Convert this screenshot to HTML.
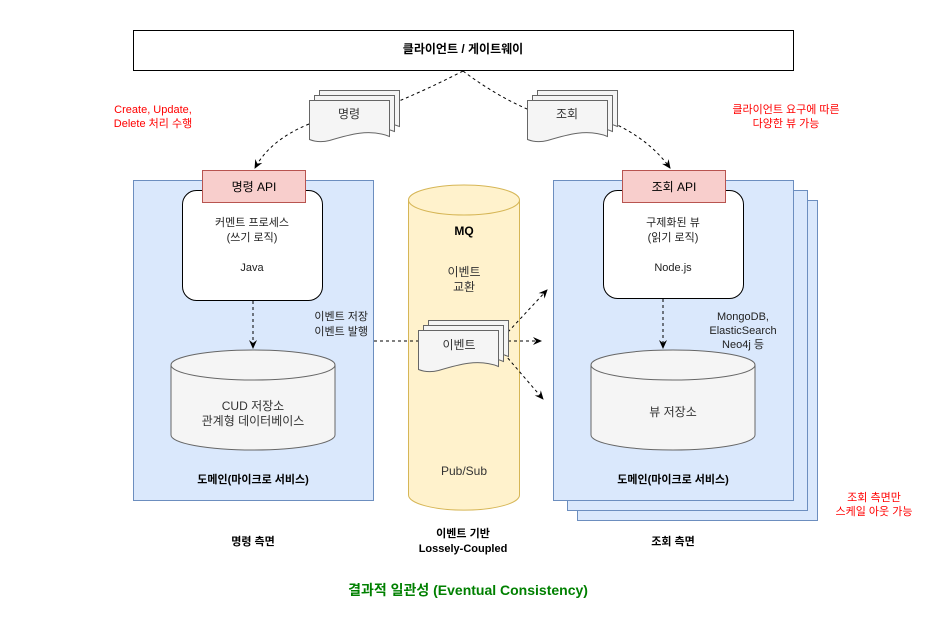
<!DOCTYPE html>
<html><head><meta charset="utf-8"><style>
body{margin:0;background:#fff;}
svg text{font-family:"Liberation Sans","Noto Sans CJK KR",sans-serif;}
</style></head><body>
<svg width="944" height="632" viewBox="0 0 944 632" xmlns="http://www.w3.org/2000/svg">
<defs>
<marker id="ar" markerWidth="10" markerHeight="10" refX="8" refY="5" orient="auto" markerUnits="userSpaceOnUse">
<path d="M0,1 L9,5 L0,9 L3,5 Z" fill="#000"/></marker>
<g id="doc">
<path d="M0,0 H80 V36 C60,28 40,34 20,40 C12,42 5,41 0,39 Z" fill="#f5f5f5" stroke="#666" stroke-width="1"/>
</g>
</defs>
<rect width="944" height="632" fill="#fff"/>
<!-- top box -->
<rect x="133.5" y="30.5" width="660" height="40" fill="#fff" stroke="#000"/>
<text x="463" y="53" font-size="12" font-weight="bold" text-anchor="middle">클라이언트 / 게이트웨이</text>

<!-- red notes -->
<text font-size="11" fill="#ff0000" text-anchor="middle"><tspan x="153" y="113">Create, Update,</tspan><tspan x="153" y="127">Delete 처리 수행</tspan></text>
<text font-size="11" fill="#ff0000" text-anchor="middle"><tspan x="786" y="113">클라이언트 요구에 따른</tspan><tspan x="786" y="127">다양한 뷰 가능</tspan></text>
<text font-size="11" fill="#ff0000" text-anchor="middle"><tspan x="874" y="501">조회 측면만</tspan><tspan x="874" y="515">스케일 아웃 가능</tspan></text>

<!-- left domain -->
<rect x="133.5" y="180.5" width="240" height="320" fill="#dae8fc" stroke="#6c8ebf"/>
<rect x="182.5" y="190.5" width="140" height="110" rx="14" fill="#fff" stroke="#000"/>
<rect x="202.5" y="170.5" width="103" height="32" fill="#f8cecc" stroke="#b85450"/>
<text x="254" y="191" font-size="12" text-anchor="middle">명령 API</text>
<text font-size="11" text-anchor="middle" fill="#222"><tspan x="252" y="226">커멘트 프로세스</tspan><tspan x="252" y="241">(쓰기 로직)</tspan><tspan x="252" y="271">Java</tspan></text>
<line x1="253" y1="301" x2="253" y2="348" stroke="#000" stroke-dasharray="3,3" marker-end="url(#ar)"/>
<path d="M171,365 V435 A82,15 0 0 0 335,435 V365" fill="#f5f5f5" stroke="#666"/>
<ellipse cx="253" cy="365" rx="82" ry="15" fill="#f5f5f5" stroke="#666"/>
<text font-size="12" text-anchor="middle" fill="#333"><tspan x="253" y="410">CUD 저장소</tspan><tspan x="253" y="425">관계형 데이터베이스</tspan></text>
<text font-size="11" text-anchor="end" fill="#222"><tspan x="368" y="320">이벤트 저장</tspan><tspan x="368" y="335">이벤트 발행</tspan></text>
<text x="253" y="483" font-size="11" font-weight="bold" text-anchor="middle">도메인(마이크로 서비스)</text>

<!-- right domain -->
<rect x="577.5" y="200.5" width="240" height="320" fill="#dae8fc" stroke="#6c8ebf"/>
<rect x="567.5" y="190.5" width="240" height="320" fill="#dae8fc" stroke="#6c8ebf"/>
<rect x="553.5" y="180.5" width="240" height="320" fill="#dae8fc" stroke="#6c8ebf"/>
<rect x="603.5" y="190.5" width="140" height="108" rx="14" fill="#fff" stroke="#000"/>
<rect x="622.5" y="170.5" width="103" height="32" fill="#f8cecc" stroke="#b85450"/>
<text x="674" y="191" font-size="12" text-anchor="middle">조회 API</text>
<text font-size="11" text-anchor="middle" fill="#222"><tspan x="673" y="226">구제화된 뷰</tspan><tspan x="673" y="241">(읽기 로직)</tspan><tspan x="673" y="271">Node.js</tspan></text>
<line x1="663" y1="299" x2="663" y2="348" stroke="#000" stroke-dasharray="3,3" marker-end="url(#ar)"/>
<path d="M591,365 V435 A82,15 0 0 0 755,435 V365" fill="#f5f5f5" stroke="#666"/>
<ellipse cx="673" cy="365" rx="82" ry="15" fill="#f5f5f5" stroke="#666"/>
<text x="673" y="416" font-size="12" text-anchor="middle" fill="#333">뷰 저장소</text>
<text font-size="11" text-anchor="middle" fill="#222"><tspan x="743" y="320">MongoDB,</tspan><tspan x="743" y="334">ElasticSearch</tspan><tspan x="743" y="348">Neo4j 등</tspan></text>
<text x="673" y="483" font-size="11" font-weight="bold" text-anchor="middle">도메인(마이크로 서비스)</text>

<!-- MQ -->
<path d="M408.5,200 V495 A55,15 0 0 0 519.5,495 V200" fill="#fff2cc" stroke="#d6b656"/>
<ellipse cx="464" cy="200" rx="55.5" ry="15" fill="#fff2cc" stroke="#d6b656"/>
<text x="464" y="235" font-size="12" font-weight="bold" text-anchor="middle">MQ</text>
<text font-size="12" text-anchor="middle" fill="#333"><tspan x="464" y="276">이벤트</tspan><tspan x="464" y="291">교환</tspan></text>
<text x="464" y="475" font-size="12" text-anchor="middle" fill="#333">Pub/Sub</text>

<!-- event arrows -->
<line x1="374" y1="341" x2="418" y2="341" stroke="#000" stroke-dasharray="3,3"/>
<line x1="508" y1="341" x2="541" y2="341" stroke="#000" stroke-dasharray="3,3" marker-end="url(#ar)"/>
<line x1="508" y1="332" x2="547" y2="290" stroke="#000" stroke-dasharray="3,3" marker-end="url(#ar)"/>
<line x1="500" y1="349" x2="543" y2="399" stroke="#000" stroke-dasharray="3,3" marker-end="url(#ar)"/>
<use href="#doc" x="428.5" y="320.5"/>
<use href="#doc" x="423.5" y="325.5"/>
<use href="#doc" x="418.5" y="330.5"/>
<text x="459" y="349" font-size="12" text-anchor="middle" fill="#333">이벤트</text>

<!-- top arrows -->
<path d="M463,71 Q430,88 399,101" fill="none" stroke="#000" stroke-dasharray="3,3"/>
<path d="M309,124 Q270,140 255,168" fill="none" stroke="#000" stroke-dasharray="3,3" marker-end="url(#ar)"/>
<path d="M463,71 Q495,95 527,109" fill="none" stroke="#000" stroke-dasharray="3,3"/>
<path d="M613,123 Q650,140 670,168" fill="none" stroke="#000" stroke-dasharray="3,3" marker-end="url(#ar)"/>
<use href="#doc" x="319.5" y="90.5"/>
<use href="#doc" x="314.5" y="95.5"/>
<use href="#doc" x="309.5" y="100.5"/>
<text x="349" y="118" font-size="12" text-anchor="middle" fill="#333">명령</text>
<use href="#doc" x="537.5" y="90.5"/>
<use href="#doc" x="532.5" y="95.5"/>
<use href="#doc" x="527.5" y="100.5"/>
<text x="567" y="118" font-size="12" text-anchor="middle" fill="#333">조회</text>

<!-- bottom labels -->
<text x="253" y="545" font-size="11" font-weight="bold" text-anchor="middle">명령 측면</text>
<text font-size="11" font-weight="bold" text-anchor="middle"><tspan x="463" y="537">이벤트 기반</tspan><tspan x="463" y="552">Lossely-Coupled</tspan></text>
<text x="673" y="545" font-size="11" font-weight="bold" text-anchor="middle">조회 측면</text>
<text x="468" y="595" font-size="14" font-weight="bold" fill="#008000" text-anchor="middle">결과적 일관성 (Eventual Consistency)</text>
</svg>
</body></html>
